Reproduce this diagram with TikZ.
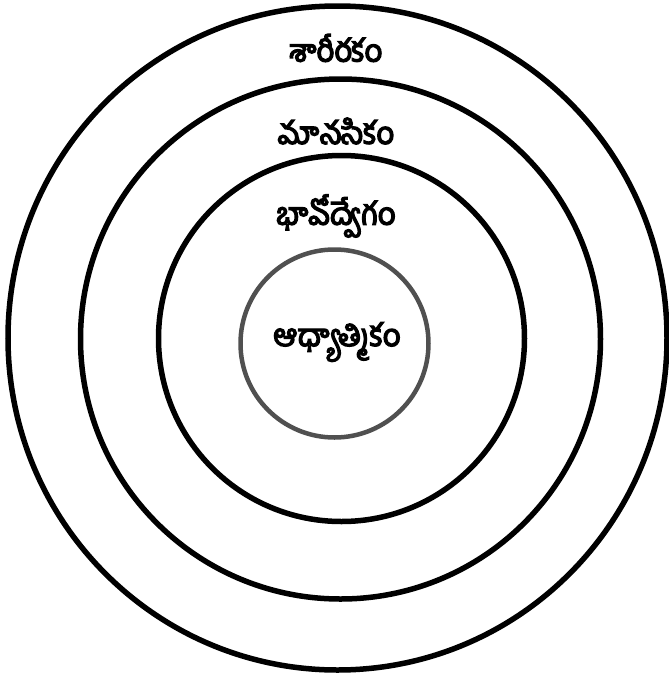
\documentclass[tikz,border=0pt]{standalone}
\usepackage{fontspec}
\newfontfamily\telugu[Script=Telugu,FakeBold=4.5]{Hind Guntur}
\definecolor{ringgray}{HTML}{505050}
\begin{document}
\begin{tikzpicture}[x=1pt,y=-1pt,
  ring/.style={draw=black,line width=5.5pt},
  core/.style={draw=ringgray,line width=4.5pt},
  lbl/.style={font=\telugu\fontsize{31}{36}\selectfont,inner sep=0pt}]
\useasboundingbox (0,0) rectangle (669,673);
\draw[ring] (337.5,338) ellipse [x radius=329.5,y radius=332];
\draw[ring] (340.5,339) circle [radius=260];
\draw[ring] (341.5,338.5) circle [radius=183];
\draw[core] (334.5,343.5) circle [radius=94];
\node[lbl] (l1) at (336,48) {శారీరకం};
\node[lbl] (l2) at (336,131) {మానసికం};
\node[lbl] (l3) at (336,216) {భావోద్వేగం};
\node[lbl] (l4) at (337,342) {ఆధ్యాత్మికం};
\end{tikzpicture}
\end{document}
